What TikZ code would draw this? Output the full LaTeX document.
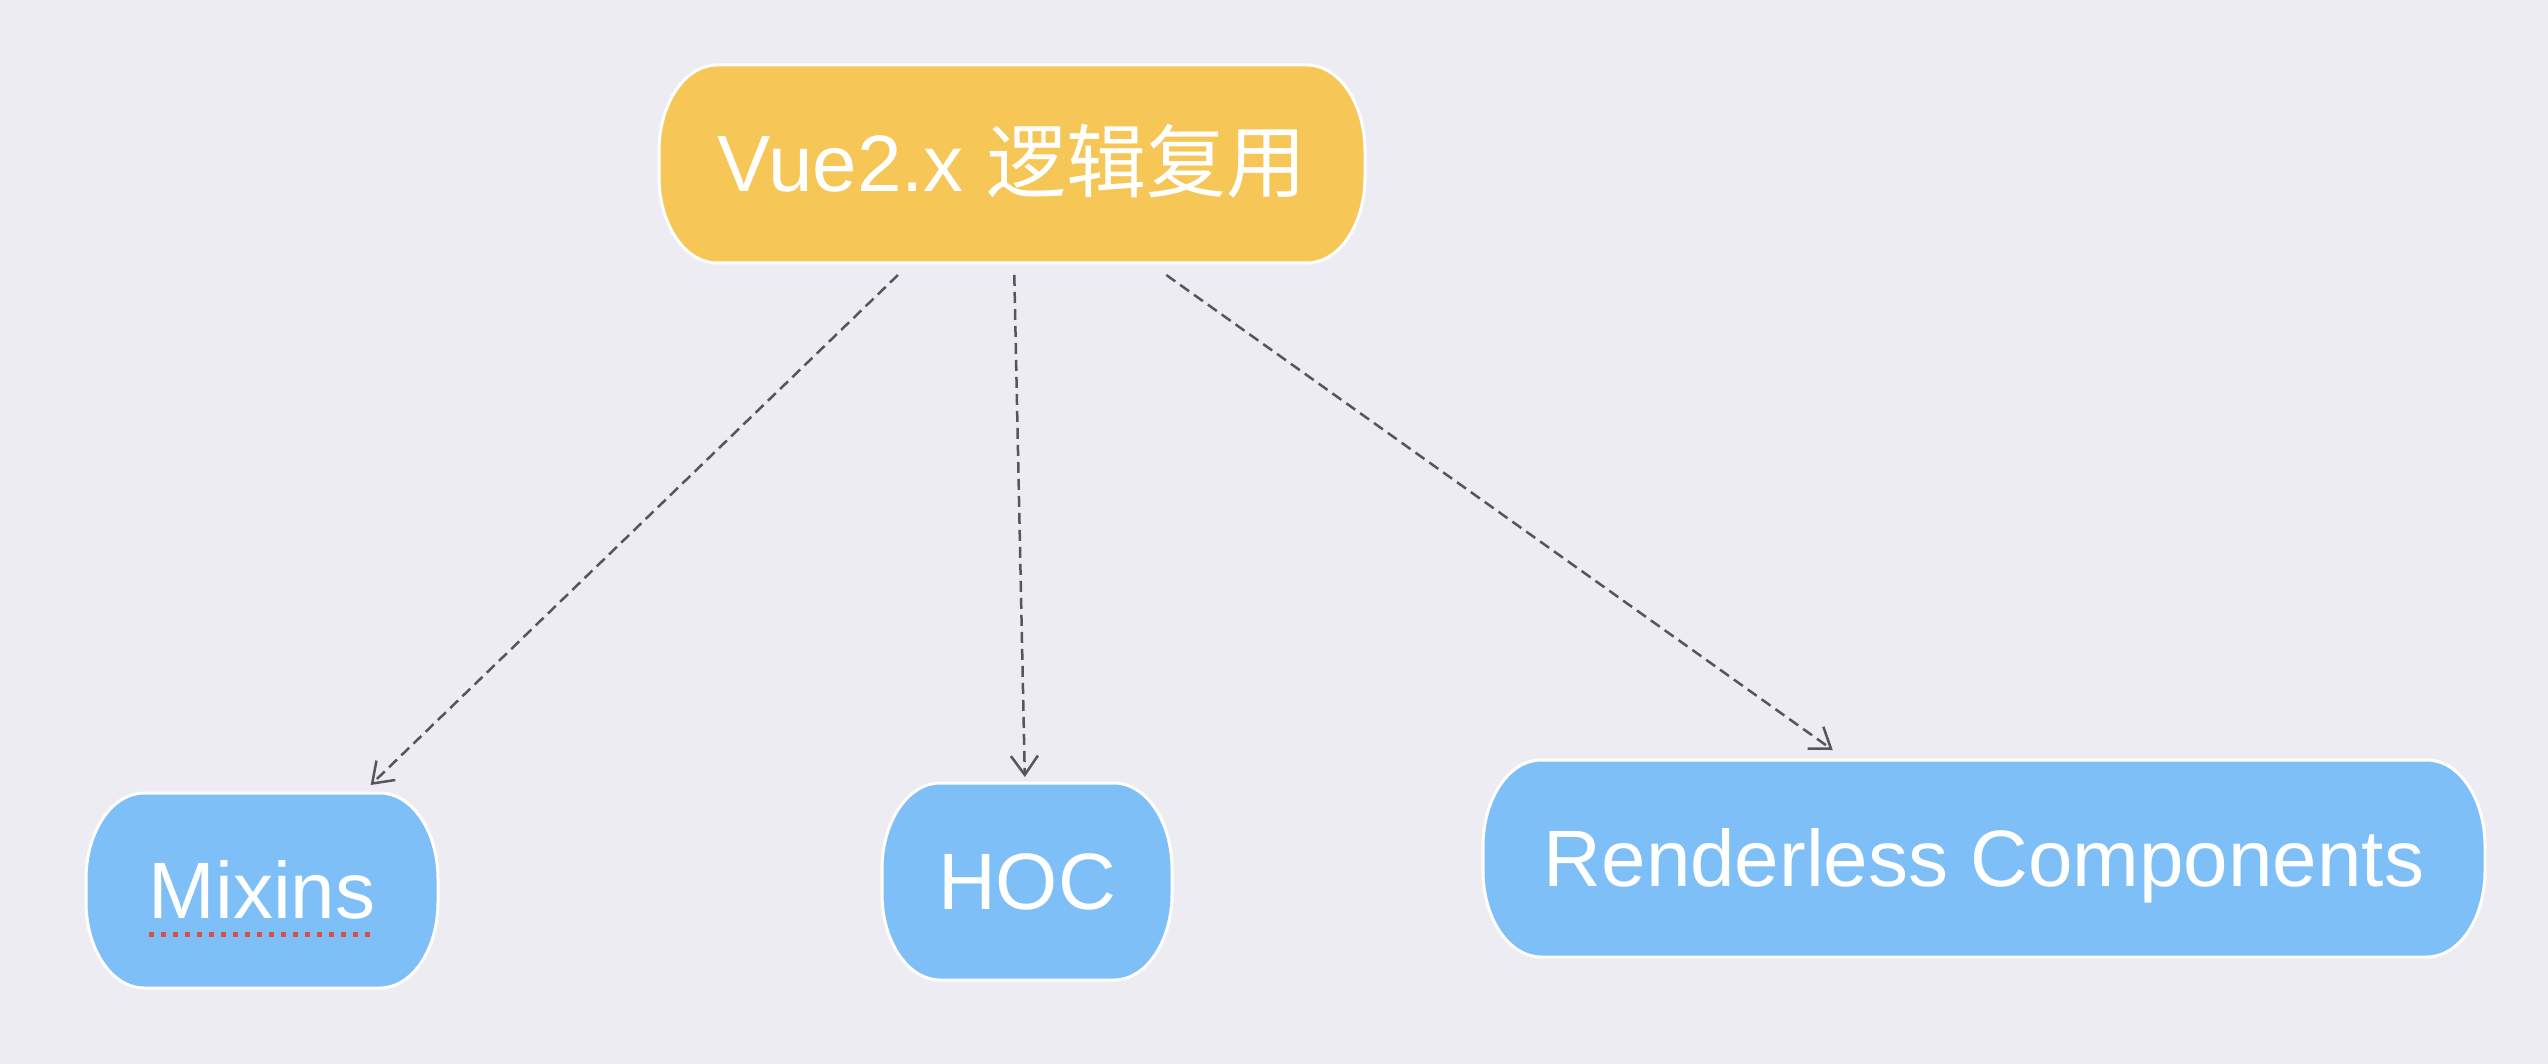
\documentclass[tikz,border=0pt]{standalone}
\usepackage{fontspec}
\setmainfont{Liberation Sans}
\newfontfamily\cjk{Noto Sans CJK SC}
\usetikzlibrary{arrows.meta,calc}
\pgfdeclarelayer{pagebg}
\pgfdeclarelayer{pillbg}
\pgfsetlayers{pagebg,pillbg,main}
\definecolor{bgcol}{RGB}{237,236,242}
\definecolor{yellowfill}{RGB}{246,198,87}
\definecolor{bluefill}{RGB}{126,191,248}
\definecolor{arrowgray}{RGB}{85,85,92}
\definecolor{squigglered}{RGB}{214,80,70}
\newcommand\pillshape[3]{%
  \path[fill=#2, draw=white, line width=3pt]
    let \p1=(#1.south west), \p2=(#1.north east) in
    (\x1+58pt,\y1+#3) -- (\x2-58pt,\y1+#3)
    arc[start angle=-90,end angle=0,x radius=58pt,y radius=86pt]
    -- (\x2,\y2-#3-86pt)
    arc[start angle=0,end angle=90,x radius=58pt,y radius=86pt]
    -- (\x1+58pt,\y2-#3)
    arc[start angle=90,end angle=180,x radius=58pt,y radius=86pt]
    -- (\x1,\y1+#3+86pt)
    arc[start angle=180,end angle=270,x radius=58pt,y radius=86pt]
    -- cycle;}
\tikzset{
  pill/.style={rectangle, inner sep=0pt, outer xsep=0pt, text=white,
    font=\fontsize{80}{92}\selectfont, text height=56pt, text depth=0pt},
  arrowline/.style={draw=arrowgray, line width=2.5pt, dash pattern=on 11pt off 6pt,
    -{Straight Barb[length=19pt,width=27pt]}}
}
\begin{document}
\begin{tikzpicture}[x=1pt,y=1pt]
\useasboundingbox (0,0) rectangle (2548,-1064);
\begin{pgfonlayer}{pagebg}
  \fill[bgcol] (0,0) rectangle (2548,-1064);
\end{pgfonlayer}

\node[pill, minimum width=706pt, minimum height=198pt, outer ysep=12pt] (top) at (1012,-164) {Vue2.x {\cjk 逻辑复用}};
\node[pill, minimum width=352pt, minimum height=195pt, outer ysep=8pt] (mixins) at (262,-890.5) {Mixins};
\node[pill, minimum width=290pt, minimum height=197pt, outer ysep=6pt] (hoc) at (1027,-881.5) {HOC};
\node[pill, minimum width=1002pt, minimum height=197pt, outer ysep=10pt] (rend) at (1984,-858.5) {Renderless Components};

\begin{pgfonlayer}{pillbg}
  \pillshape{top}{yellowfill}{12pt}
  \pillshape{mixins}{bluefill}{8pt}
  \pillshape{hoc}{bluefill}{6pt}
  \pillshape{rend}{bluefill}{10pt}
\end{pgfonlayer}

\draw[squigglered, line width=5pt, dash pattern=on 5pt off 7pt]
  ($(mixins.center)+(-113,-44)$) -- ($(mixins.center)+(113,-44)$);

\draw[arrowline] (top) -- (mixins);
\draw[arrowline] (top) -- (hoc);
\draw[arrowline] (top) -- (rend);
\end{tikzpicture}
\end{document}
